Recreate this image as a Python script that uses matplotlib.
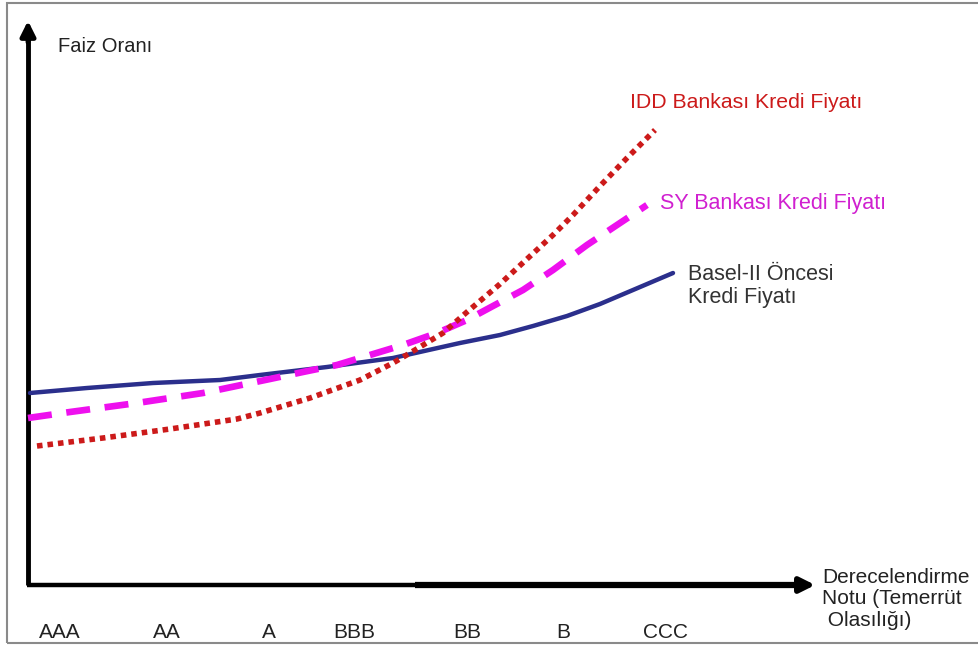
import numpy as np
import matplotlib
matplotlib.use('Agg')
import matplotlib.pyplot as plt
from matplotlib.patches import Rectangle

plt.rcParams['font.family'] = ['Liberation Sans', 'DejaVu Sans']

# Derecelendirme notları ve eksendeki yerleri
ratings = ['AAA', 'AA', 'A', 'BBB', 'BB', 'B', 'CCC']
rating_x = [32, 139, 241, 326, 439, 535, 638]

# Basel-II öncesi kredi fiyatı (düz lacivert)
basel_x = [2, 59, 125, 192, 232, 299, 365, 432, 472, 505, 539, 572, 605, 645]
basel_y = [192, 197, 202, 205, 210, 218, 227, 242, 250, 259, 269, 281, 295, 312]

# SY Bankası kredi fiyatı (kesikli pembe)
sy_x = [0, 42, 109, 175, 242, 275, 309, 342, 375, 409, 439, 465, 495, 525, 559, 592, 619]
sy_y = [167, 173, 182, 192, 206, 213, 220, 230, 240, 252, 265, 279, 295, 315, 340, 362, 380]

# IDD Bankası kredi fiyatı (noktalı kırmızı)
idd_x = [9, 75, 142, 209, 232, 282, 332, 365, 382, 415, 439, 472, 499, 525, 545, 572, 599, 627]
idd_y = [139, 147, 156, 166, 172, 187, 205, 222, 232, 252, 273, 301, 326, 350, 370, 399, 427, 455]

fig = plt.figure(figsize=(9.79, 6.46), dpi=100)
ax = fig.add_axes([0, 0, 1, 1])
ax.set_xlim(-28, 951)
ax.set_ylim(-61, 585)
ax.axis('off')

# çerçeve
fig.patches.append(Rectangle((0.007, 0.005), 1.0, 0.99, transform=fig.transFigure,
                             fill=False, edgecolor='#8a8a8a', lw=1.5))

# eksenler
ax.plot([0, 0], [0, 550], color='k', lw=3.5, solid_capstyle='butt')
ax.annotate('', xy=(0, 567), xytext=(0, 540),
            arrowprops=dict(arrowstyle='-|>', color='k', lw=3.5, mutation_scale=22))
ax.plot([-1.5, 390], [0, 0], color='k', lw=3.2, solid_capstyle='butt')
ax.plot([387, 775], [0, 0], color='k', lw=4.5, solid_capstyle='butt')
ax.annotate('', xy=(790, 0), xytext=(765, 0),
            arrowprops=dict(arrowstyle='-|>', color='k', lw=4, mutation_scale=22))

# eğriler
ax.plot(basel_x, basel_y, color='#2b2f8c', lw=3.2, solid_capstyle='round')
ax.plot(sy_x, sy_y, color='#ee10ee', lw=4.8, dashes=(3.6, 2.2))
ax.plot(idd_x, idd_y, color='#cc1a1a', lw=4, linestyle=(0, (1, 0.9)))

# yazılar
ax.text(30, 538, 'Faiz Oranı', fontsize=14.5, color='#222222', va='center')
ax.text(602, 483, 'IDD Bankası Kredi Fiyatı', fontsize=15.3, color='#cc1a1a', va='center')
ax.text(632, 381, 'SY Bankası Kredi Fiyatı', fontsize=15.5, color='#d020d0', va='center')
ax.text(660, 299, 'Basel-II Öncesi\nKredi Fiyatı', fontsize=15.5, color='#333333',
        va='center', linespacing=1.15)
ax.text(794, -14, 'Derecelendirme\nNotu (Temerrüt\n Olasılığı)', fontsize=15,
        color='#222222', va='center', linespacing=1.15)

for lab, xp in zip(ratings, rating_x):
    ax.text(xp, -47, lab, fontsize=15, color='#222222', ha='center', va='center')

fig.savefig('out.png', dpi=100)
